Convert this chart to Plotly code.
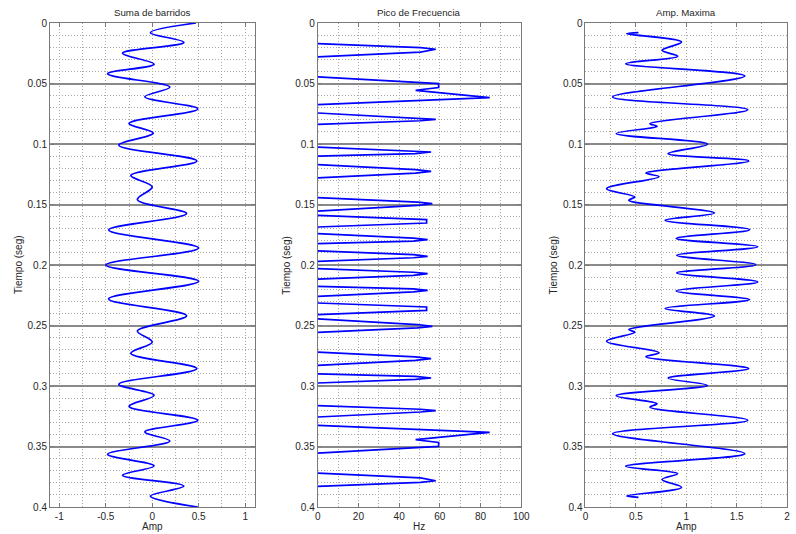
import plotly.graph_objects as go

# ---------------- data ----------------
# Panel 1: Suma de barridos (turning points of the trace)
sum_time = [0.0, 0.008, 0.016, 0.025, 0.034, 0.042, 0.053, 0.061, 0.071, 0.083, 0.091,
            0.101, 0.114, 0.126, 0.1355, 0.146, 0.1575, 0.171, 0.186, 0.200, 0.2135,
            0.228, 0.242, 0.2545, 0.2636, 0.273, 0.2856, 0.2986, 0.3077, 0.3168, 0.3283,
            0.338, 0.3455, 0.3564, 0.366, 0.3738, 0.3827, 0.391, 0.4]
sum_amp = [0.47, -0.02, 0.34, -0.32, 0.02, -0.48, 0.19, -0.08, 0.49, -0.25, 0.01,
           -0.36, 0.48, -0.23, 0.0, -0.16, 0.37, -0.47, 0.50, -0.50, 0.50,
           -0.47, 0.37, -0.16, 0.0, -0.23, 0.48, -0.36, 0.02, -0.25, 0.49,
           -0.08, 0.19, -0.48, 0.02, -0.32, 0.34, -0.02, 0.49]

# Panel 2: Pico de Frecuencia (each spike separated by a gap)
freq_time = [0.017, 0.0203, 0.0217, 0.024, 0.028, None,
             0.0446, 0.0501, 0.0534, 0.0556, 0.0617, 0.0675, None,
             0.0744, 0.0785, 0.0796, 0.0808, 0.0837, None,
             0.1025, 0.1055, 0.1066, 0.108, 0.110, None,
             0.117, 0.1212, 0.1226, 0.124, 0.128, None,
             0.1443, 0.148, 0.1493, 0.1508, 0.1554, None,
             0.159, 0.1625, 0.1653, 0.1686, None,
             0.174, 0.1778, 0.179, 0.1802, 0.1823, None,
             0.1884, 0.1915, 0.1928, 0.194, 0.197, None,
             0.203, 0.206, 0.2072, 0.2085, 0.2116, None,
             0.2177, 0.2198, 0.221, 0.2222, 0.226, None,
             0.2314, 0.2347, 0.2375, 0.241, None,
             0.2446, 0.2492, 0.2507, 0.252, 0.2557, None,
             0.272, 0.276, 0.2774, 0.2788, 0.283, None,
             0.29, 0.292, 0.2934, 0.2945, 0.2975, None,
             0.3163, 0.3192, 0.3204, 0.3215, 0.3256, None,
             0.3325, 0.3383, 0.3444, 0.3466, 0.3499, 0.3554, None,
             0.372, 0.376, 0.3783, 0.3797, 0.383]
freq_hz = [0, 50.5, 58, 50.5, 0, None,
           0, 59.4, 59.4, 48.1, 84.5, 0, None,
           0, 50.5, 58, 50.5, 0, None,
           0, 48, 55.7, 48, 0, None,
           0, 48, 55.7, 48, 0, None,
           0, 49, 56.3, 49, 0, None,
           0, 53.5, 53.5, 0, None,
           0, 47, 54, 47, 0, None,
           0, 47, 54, 47, 0, None,
           0, 47, 54, 47, 0, None,
           0, 47, 54, 47, 0, None,
           0, 53.5, 53.5, 0, None,
           0, 49, 56.3, 49, 0, None,
           0, 48, 55.7, 48, 0, None,
           0, 48, 55.7, 48, 0, None,
           0, 50.5, 58, 50.5, 0, None,
           0, 84.5, 48.1, 59.4, 59.4, 0, None,
           0, 50.5, 58, 50.5, 0]

# Panel 3: Amp. Maxima (turning points of the trace)
max_time = [0.008, 0.0088, 0.0157, 0.0226, 0.0275, 0.0336, 0.0438, 0.0611, 0.0716,
            0.0832, 0.0854, 0.0914, 0.1002, 0.108, 0.114, 0.124, 0.127, 0.137, 0.1438,
            0.1465, 0.157, 0.163, 0.1708, 0.178, 0.185, 0.192, 0.1997, 0.2066, 0.214,
            0.2215, 0.2286, 0.236, 0.2422, 0.2534, 0.2556, 0.263, 0.2725, 0.2758,
            0.2856, 0.2935, 0.2995, 0.308, 0.3146, 0.3175, 0.3283, 0.3395, 0.3559,
            0.3663, 0.3724, 0.3773, 0.3838, 0.3908, 0.392]
max_amp = [0.526, 0.41, 0.954, 0.76, 0.915, 0.40, 1.58, 0.27, 1.61,
           0.64, 0.71, 0.305, 1.21, 0.82, 1.62, 0.60, 0.73, 0.21, 0.49,
           0.43, 1.28, 0.79, 1.63, 0.90, 1.71, 0.905, 1.69, 0.905, 1.71,
           0.90, 1.63, 0.79, 1.28, 0.43, 0.49, 0.21, 0.73, 0.60,
           1.62, 0.82, 1.21, 0.305, 0.71, 0.64, 1.61, 0.27, 1.58,
           0.40, 0.915, 0.76, 0.954, 0.41, 0.526]

# ticks / labels
y_tickvals = [0, 0.05, 0.1, 0.15, 0.2, 0.25, 0.3, 0.35, 0.4]
y_ticktext = ["0", "0.05", "0.1", "0.15", "0.2", "0.25", "0.3", "0.35", "0.4"]
x1_tickvals = [-1, -0.5, 0, 0.5, 1]
x1_ticktext = ["-1", "-0.5", "0", "0.5", "1"]
x2_tickvals = [0, 20, 40, 60, 80, 100]
x2_ticktext = ["0", "20", "40", "60", "80", "100"]
x3_tickvals = [0, 0.5, 1, 1.5, 2]
x3_ticktext = ["0", "0.5", "1", "1.5", "2"]

panel_titles = ["Suma de barridos", "Pico de Frecuencia", "Amp. Maxima"]
x_titles = ["Amp", "Hz", "Amp"]
y_title = "Tiempo (seg)"

# ---------------- figure ----------------
FONT = "Liberation Sans, Arial, sans-serif"
LINE = dict(color="#0000ff", width=1.7)
FRAME = "#7a7a7a"
DOT = "1px,2px"

fig = go.Figure()
fig.add_trace(go.Scatter(x=sum_amp, y=sum_time, mode="lines",
                         line=dict(**LINE, shape="spline", smoothing=1.0),
                         xaxis="x", yaxis="y", showlegend=False))
fig.add_trace(go.Scatter(x=freq_hz, y=freq_time, mode="lines", connectgaps=False,
                         line=dict(**LINE, shape="linear"),
                         xaxis="x2", yaxis="y2", showlegend=False))
fig.add_trace(go.Scatter(x=max_amp, y=max_time, mode="lines",
                         line=dict(**LINE, shape="spline", smoothing=1.0),
                         xaxis="x3", yaxis="y3", showlegend=False))

W, H = 796, 534
L, R, T, B = 50, 0, 23, 27
pw = W - L - R
doms = [((50 - L) / pw, (257 - L) / pw),
        ((321 - L) / pw, (527 - L) / pw),
        ((592 - L) / pw, 1.0)]

def xaxis(dom, rng, tv, tt, minor_dt, anchor):
    return dict(domain=list(dom), range=rng, anchor=anchor,
                tickmode="array", tickvals=tv, ticktext=tt,
                showline=True, mirror="ticks", linecolor=FRAME, linewidth=1,
                ticks="inside", ticklen=4, tickcolor=FRAME, tickwidth=1,
                showgrid=True, gridcolor="#a8a8a8", gridwidth=1, griddash=DOT,
                minor=dict(dtick=minor_dt, tick0=0, showgrid=True, gridcolor="#a8a8a8",
                           gridwidth=1, griddash=DOT, ticks=""),
                zeroline=False, tickfont=dict(size=10, color="#262626", family=FONT),
                fixedrange=True)

def yaxis(anchor):
    return dict(domain=[0, 1], range=[0.4, 0], anchor=anchor,
                tickmode="array", tickvals=y_tickvals, ticktext=y_ticktext,
                showline=True, mirror="ticks", linecolor=FRAME, linewidth=1,
                ticks="inside", ticklen=4, tickcolor=FRAME, tickwidth=1,
                showgrid=True, gridcolor="#8a8a8a", gridwidth=1.5,
                minor=dict(dtick=0.01, tick0=0, showgrid=True, gridcolor="#a8a8a8",
                           gridwidth=1, griddash=DOT, ticks=""),
                zeroline=False, layer="above traces",
                tickfont=dict(size=10, color="#262626", family=FONT),
                fixedrange=True)

fig.update_layout(
    width=W, height=H,
    margin=dict(l=L, r=R, t=T, b=B, pad=0),
    paper_bgcolor="white", plot_bgcolor="white",
    font=dict(family=FONT, size=10, color="#262626"),
    xaxis=xaxis(doms[0], [-1.1, 1.1], x1_tickvals, x1_ticktext, 0.25, "y"),
    xaxis2=xaxis(doms[1], [0, 100], x2_tickvals, x2_ticktext, 10, "y2"),
    xaxis3=xaxis(doms[2], [0, 2], x3_tickvals, x3_ticktext, 0.25, "y3"),
    yaxis=yaxis("x"),
    yaxis2=yaxis("x2"),
    yaxis3=yaxis("x3"),
    hovermode=False,
)

anns = []
for i, ax in enumerate(["x", "x2", "x3"]):
    yref = "y" if ax == "x" else "y" + ax[1:]
    anns.append(dict(text=panel_titles[i], xref=f"{ax} domain", x=0.5,
                     yref=f"{yref} domain", y=1, yanchor="bottom", yshift=3,
                     showarrow=False, font=dict(size=9.7, color="#262626", family=FONT)))
    anns.append(dict(text=x_titles[i], xref=f"{ax} domain", x=0.5,
                     yref="paper", y=0, yanchor="top", yshift=-12,
                     showarrow=False, font=dict(size=10, color="#262626", family=FONT)))
    anns.append(dict(text=y_title, xref=f"{ax} domain", x=0, xshift=-32,
                     yref=f"{yref} domain", y=0.5, textangle=-90,
                     xanchor="center", yanchor="middle",
                     showarrow=False, font=dict(size=10, color="#262626", family=FONT)))
fig.update_layout(annotations=anns)

fig.write_html("out.html", config={"displayModeBar": False},
               post_script="document.body.style.margin='0';document.body.style.overflow='hidden';")
